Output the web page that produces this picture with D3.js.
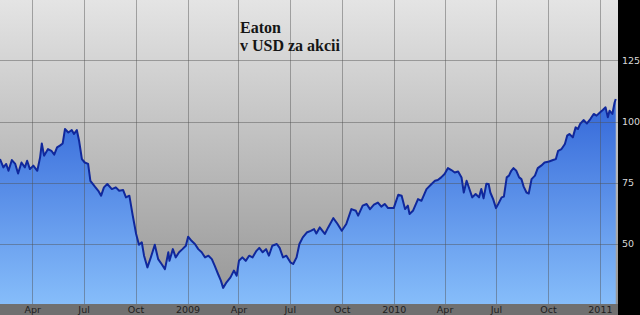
<!DOCTYPE html>
<html>
<head>
<meta charset="utf-8">
<script src="https://cdn.jsdelivr.net/npm/d3@7"></script>
<style>
  html, body { margin: 0; padding: 0; background: #000; }
</style>
</head>
<body>
<div id="chart"></div>
<script>
// Eaton share price, USD per share
var dates = [
  "2008-02-04","2008-02-10","2008-02-15","2008-02-19","2008-02-25","2008-03-02","2008-03-07","2008-03-13",
  "2008-03-19","2008-03-23","2008-03-28","2008-04-03","2008-04-10","2008-04-15","2008-04-18","2008-04-22",
  "2008-04-29","2008-05-05","2008-05-10","2008-05-15","2008-05-20","2008-05-25","2008-05-29","2008-06-04",
  "2008-06-10","2008-06-14","2008-06-19","2008-06-23","2008-06-28","2008-07-03","2008-07-09","2008-07-13",
  "2008-07-21","2008-07-27","2008-08-01","2008-08-06","2008-08-12","2008-08-20","2008-08-27","2008-09-02",
  "2008-09-09","2008-09-14","2008-09-20","2008-09-26","2008-10-02","2008-10-07","2008-10-12","2008-10-16",
  "2008-10-22","2008-10-28","2008-11-04","2008-11-10","2008-11-16","2008-11-22","2008-11-28","2008-11-30",
  "2008-12-06","2008-12-11","2008-12-17","2008-12-23","2008-12-29","2009-01-02","2009-01-08","2009-01-14",
  "2009-01-20","2009-01-26","2009-02-01","2009-02-07","2009-02-13","2009-02-18","2009-02-24","2009-03-01",
  "2009-03-05","2009-03-11","2009-03-18","2009-03-24","2009-03-29","2009-04-02","2009-04-08","2009-04-14",
  "2009-04-20","2009-04-26","2009-05-03","2009-05-08","2009-05-14","2009-05-20","2009-05-25","2009-05-31",
  "2009-06-08","2009-06-13","2009-06-19","2009-06-25","2009-07-02","2009-07-07","2009-07-13","2009-07-18",
  "2009-07-24","2009-07-31","2009-08-07","2009-08-13","2009-08-17","2009-08-23","2009-09-01","2009-09-07",
  "2009-09-16","2009-09-23","2009-10-01","2009-10-09","2009-10-18","2009-10-26","2009-10-30","2009-11-07",
  "2009-11-14","2009-11-20","2009-11-27","2009-12-04","2009-12-10","2009-12-16","2009-12-22","2010-01-01",
  "2010-01-09","2010-01-15","2010-01-21","2010-01-26","2010-01-29","2010-02-04","2010-02-13","2010-02-19",
  "2010-02-28","2010-03-09","2010-03-15","2010-03-20","2010-03-26","2010-04-01","2010-04-07","2010-04-13",
  "2010-04-19","2010-04-25","2010-05-01","2010-05-05","2010-05-10","2010-05-16","2010-05-20","2010-05-26",
  "2010-06-01","2010-06-05","2010-06-09","2010-06-14","2010-06-18","2010-06-21","2010-06-26","2010-07-01",
  "2010-07-05","2010-07-11","2010-07-15","2010-07-20","2010-07-24","2010-07-28","2010-08-01","2010-08-06",
  "2010-08-11","2010-08-15","2010-08-19","2010-08-24","2010-08-28","2010-09-02","2010-09-08","2010-09-13",
  "2010-09-19","2010-09-25","2010-10-03","2010-10-10","2010-10-15","2010-10-19","2010-10-25","2010-10-31",
  "2010-11-04","2010-11-08","2010-11-14","2010-11-19","2010-11-23","2010-11-27","2010-12-03","2010-12-09",
  "2010-12-15","2010-12-21","2010-12-26","2011-01-01","2011-01-06","2011-01-11","2011-01-15","2011-01-18",
  "2011-01-23","2011-01-27","2011-01-29"
];
var prices = [
  84.6, 81.2, 82.6, 79.8, 84.2, 82.6, 78.7, 83.2,
  81.2, 83.9, 80.5, 81.9, 79.8, 85.3, 91.0, 86.0,
  88.7, 88.0, 86.4, 89.4, 90.1, 91.0, 96.9, 95.5,
  96.5, 94.9, 96.5, 92.1, 84.6, 83.2, 82.6, 75.7,
  73.3, 71.6, 69.6, 73.0, 74.4, 72.3, 73.0, 71.6,
  71.9, 68.9, 69.6, 61.4, 53.9, 49.5, 50.5, 45.0,
  40.2, 44.3, 49.5, 43.6, 41.6, 39.5, 46.4, 42.9,
  47.7, 44.3, 46.4, 47.7, 49.1, 52.8, 51.1, 49.8,
  47.7, 46.4, 44.3, 45.0, 43.6, 40.9, 37.5, 34.8,
  31.8, 34.1, 36.1, 38.9, 36.8, 42.9, 44.3, 42.9,
  45.0, 44.3, 47.0, 48.2, 46.4, 47.7, 45.0, 49.1,
  49.8, 48.2, 44.3, 45.0, 42.3, 41.6, 44.3, 49.8,
  52.5, 54.5, 55.2, 55.9, 54.1, 56.6, 53.9, 56.6,
  60.4, 58.2, 55.2, 58.0, 64.1, 63.4, 61.4, 65.5,
  66.2, 64.1, 65.9, 66.8, 65.1, 66.2, 64.5, 64.5,
  70.0, 69.6, 64.1, 65.5, 62.1, 63.4, 68.2, 67.5,
  72.3, 74.4, 75.7, 76.0, 77.1, 78.5, 80.9, 80.1,
  79.1, 79.5, 77.1, 70.9, 75.7, 71.6, 68.9, 70.3,
  68.9, 72.3, 68.5, 74.5, 74.4, 70.9, 68.2, 64.5,
  66.2, 68.9, 69.2, 77.1, 77.8, 79.8, 80.9, 79.8,
  77.1, 76.4, 73.3, 70.9, 70.5, 76.4, 77.8, 80.9,
  81.9, 83.2, 83.6, 84.2, 84.6, 88.0, 88.7, 90.8,
  94.2, 94.9, 93.5, 97.6, 96.9, 99.0, 100.6, 99.2,
  101.0, 103.1, 102.4, 103.7, 104.7, 105.8, 101.7, 104.4,
  103.1, 107.8, 109.2
];
var yTicks = [50, 75, 100, 125];
var xTickDates = ["2008-04-01","2008-07-01","2008-10-01","2009-01-01","2009-04-01","2009-07-01",
                  "2009-10-01","2010-01-01","2010-04-01","2010-07-01","2010-10-01","2011-01-01"];
var xTickLabels = ["Apr","Jul","Oct","2009","Apr","Jul","Oct","2010","Apr","Jul","Oct","2011"];
var titleLines = ["Eaton", "v USD za akcii"];

var width = 640,
    height = 315,
    plot_right = 618,
    plot_bottom = 304;

var parse = d3.timeParse("%Y-%m-%d");
var data = dates.map(function(d, i) { return {date: parse(d), value: prices[i]}; });

var x = d3.scaleTime()
    .domain([parse("2008-02-04"), parse("2011-02-02")])
    .range([0, plot_right]);
var y = d3.scaleLinear()
    .domain([25, 150])
    .range([plot_bottom + 0.5, -0.5]);

var svg = d3.select("#chart").append("svg")
    .attr("width", width)
    .attr("height", height)
    .style("display", "block");

var defs = svg.append("defs");
var bgGrad = defs.append("linearGradient")
    .attr("id", "bgGrad")
    .attr("gradientUnits", "userSpaceOnUse")
    .attr("x1", 0).attr("y1", 0).attr("x2", 0).attr("y2", plot_bottom);
bgGrad.append("stop").attr("offset", "0%").attr("stop-color", "#e4e4e4");
bgGrad.append("stop").attr("offset", "100%").attr("stop-color", "#969696");
var areaGrad = defs.append("linearGradient")
    .attr("id", "areaGrad")
    .attr("gradientUnits", "userSpaceOnUse")
    .attr("x1", 0).attr("y1", 0).attr("x2", 0).attr("y2", plot_bottom);
areaGrad.append("stop").attr("offset", "0%").attr("stop-color", "#2a55c8");
areaGrad.append("stop").attr("offset", "40%").attr("stop-color", "#3c70dc");
areaGrad.append("stop").attr("offset", "100%").attr("stop-color", "#86bdfa");

// black background with the grey plot panel
svg.append("rect")
    .attr("width", width).attr("height", height)
    .attr("fill", "#000");
svg.append("rect")
    .attr("x", 0).attr("y", 0)
    .attr("width", plot_right).attr("height", plot_bottom)
    .attr("fill", "url(#bgGrad)");

// area + line
var area = d3.area()
    .x(function(d) { return x(d.date); })
    .y0(plot_bottom)
    .y1(function(d) { return y(d.value); });
var line = d3.line()
    .x(function(d) { return x(d.date); })
    .y(function(d) { return y(d.value); });

svg.append("path")
    .datum(data)
    .attr("d", area)
    .attr("fill", "url(#areaGrad)");

// grid
var grid = svg.append("g").attr("id", "grid");
grid.selectAll(".hgrid")
    .data(yTicks)
    .enter().append("line")
    .attr("class", "hgrid")
    .attr("x1", 0).attr("x2", plot_right)
    .attr("y1", function(d) { return Math.round(y(d)) + 0.5; })
    .attr("y2", function(d) { return Math.round(y(d)) + 0.5; })
    .attr("stroke", "#505050")
    .attr("stroke-opacity", 0.45);
grid.selectAll(".vgrid")
    .data(xTickDates)
    .enter().append("line")
    .attr("class", "vgrid")
    .attr("x1", function(d) { return Math.round(x(parse(d))) + 0.5; })
    .attr("x2", function(d) { return Math.round(x(parse(d))) + 0.5; })
    .attr("y1", 0).attr("y2", plot_bottom)
    .attr("stroke", "#505050")
    .attr("stroke-opacity", 0.45);

svg.append("path")
    .datum(data)
    .attr("d", line)
    .attr("fill", "none")
    .attr("stroke", "#10289c")
    .attr("stroke-width", 2)
    .attr("stroke-linejoin", "round");

// bottom axis band
svg.append("rect")
    .attr("x", 0).attr("y", plot_bottom)
    .attr("width", plot_right).attr("height", height - plot_bottom)
    .attr("fill", "#707070");
var xAxis = d3.axisBottom(x)
    .tickValues(xTickDates.map(parse))
    .tickFormat(function(d, i) { return xTickLabels[i]; })
    .tickSize(0)
    .tickPadding(0);
var gx = svg.append("g")
    .attr("id", "x-axis")
    .attr("transform", "translate(0," + plot_bottom + ")")
    .call(xAxis);
gx.select(".domain").remove();
gx.selectAll("text")
    .attr("dy", null)
    .attr("y", 9)
    .attr("fill", "#1e1e1e")
    .attr("font-family", "DejaVu Sans, Verdana, sans-serif")
    .attr("font-size", 9.5);

// right value axis
var yAxis = d3.axisRight(y)
    .tickValues(yTicks)
    .tickSize(0)
    .tickPadding(4);
var gy = svg.append("g")
    .attr("id", "y-axis")
    .attr("transform", "translate(" + plot_right + ",0)")
    .call(yAxis);
gy.select(".domain").remove();
gy.selectAll("text")
    .attr("fill", "#d8d8d8")
    .attr("font-family", "DejaVu Sans, Verdana, sans-serif")
    .attr("font-size", 9.5);

// title, two lines
svg.selectAll(".title")
    .data(titleLines)
    .enter().append("text")
    .attr("class", "title")
    .attr("x", 240)
    .attr("y", function(d, i) { return 33 + i * 18; })
    .attr("font-family", "Liberation Serif, Times New Roman, serif")
    .attr("font-weight", "bold")
    .attr("font-size", 16)
    .attr("fill", "#151515")
    .text(function(d) { return d; });
</script>
</body>
</html>
